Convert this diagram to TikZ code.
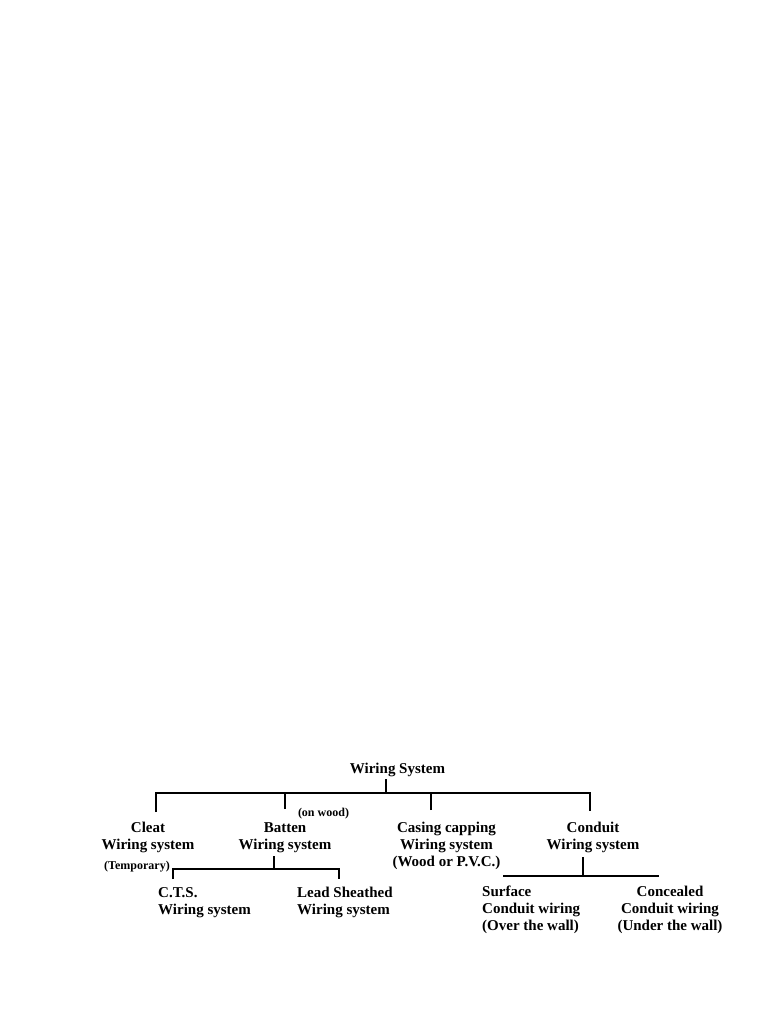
\documentclass[tikz,border=0pt]{standalone}
\usepackage{fontspec}
\setmainfont{Liberation Serif}
\begin{document}
\begin{tikzpicture}[x=1pt,y=-1pt,
  lbl/.style={font=\fontsize{15}{17}\selectfont\bfseries, inner sep=0pt, anchor=base},
  sml/.style={font=\fontsize{12}{14}\selectfont\bfseries, inner sep=0pt, anchor=base},
  tree/.style={line width=2pt, line join=miter}]
\useasboundingbox[fill=white] (0,0) rectangle (768,1024);
% texts (anchor base = baseline of the last line)
\node[lbl] (root) at (397.5,773) {Wiring System};
\node[lbl, align=center] (cleat) at (148,849) {Cleat\\Wiring system};
\node[sml] (temp) at (137,869) {(Temporary)};
\node[lbl, align=center] (batten) at (285,849) {Batten\\Wiring system};
\node[sml] (onwood) at (323.5,816) {(on wood)};
\node[lbl, align=center] (casing) at (446.5,866) {Casing capping\\Wiring system\\(Wood or P.V.C.)};
\node[lbl, align=center] (conduit) at (593,849) {Conduit\\Wiring system};
\node[lbl, align=left, anchor=base west] (cts) at (158,914) {C.T.S.\\Wiring system};
\node[lbl, align=left, anchor=base west] (lead) at (297,914) {Lead Sheathed\\Wiring system};
\node[lbl, align=left, anchor=base west] (surface) at (482,930) {Surface\\Conduit wiring\\(Over the wall)};
\node[lbl, align=center] (concealed) at (670,930) {Concealed\\Conduit wiring\\(Under the wall)};
% connector coordinates
\coordinate (r1) at (386,779);
\coordinate (jL) at (156,793);
\coordinate (jR) at (590,793);
\coordinate (dCleat) at (156,812);
\coordinate (dBatten) at (285,809);
\coordinate (dCasing) at (431,810);
\coordinate (dConduit) at (590,811);
\coordinate (b1) at (274,856);
\coordinate (bL) at (173,869);
\coordinate (bR) at (339,869);
\coordinate (dCts) at (173,879);
\coordinate (dLead) at (339,879);
\coordinate (c1) at (583,857);
\coordinate (cL) at (503,876);
\coordinate (cR) at (659,876);
% main tree
\draw[tree] (dCleat) -- (jL) -- (jR) -- (dConduit);
\draw[tree] (r1) -- (r1 |- jL);
\draw[tree] (dBatten) -- (dBatten |- jL);
\draw[tree] (dCasing) -- (dCasing |- jL);
% batten sub-tree
\draw[tree] (dCts) -- (bL) -- (bR) -- (dLead);
\draw[tree] (b1) -- (b1 |- bL);
% conduit sub-tree
\draw[tree] (cL) -- (cR);
\draw[tree] (c1) -- (c1 |- cL);
\end{tikzpicture}
\end{document}
